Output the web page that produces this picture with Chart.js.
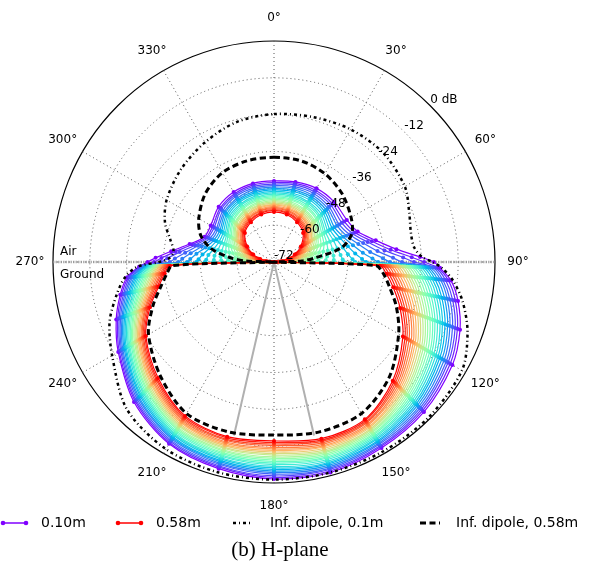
<!DOCTYPE html>
<html>
<head>
<meta charset="utf-8">
<script src="https://cdn.jsdelivr.net/npm/chart.js@4/dist/chart.umd.min.js"></script>
<style>
    body { margin: 0; background: #fff; }
    canvas { display: block; }
</style>
</head>
<body>
<canvas id="hplane" width="594" height="567"></canvas>
<script>
// angles (deg, clockwise from 0 at top) where the curves were read
const angles = [0,15,30,45,60,70,78,84,88,90,92,96,102,110,120,135,150,165,180,195,210,225,240,250,258,264,268,270,272,276,282,290,300,315,330,345];

const heights = [0.10,0.12,0.14,0.16,0.18,0.20,0.22,0.24,0.26,0.28,0.30,0.32,0.34,0.36,0.38,0.40,0.42,0.44,0.46,0.48,0.50,0.52,0.54,0.56,0.58];

// normalised gain in dB, one row per height, same order as angles
const gain_db = [
    [-45.6,-45.0,-44.3,-44.3,-44.6,-43.0,-38.1,-31.9,-24.4,-19.9,-17.9,-14.0,-10.7,-7.5,-4.9,-2.9,-2.0,-1.0,-1.3,-2.3,-3.6,-7.5,-13.4,-17.3,-20.8,-23.8,-28.0,-30.8,-33.4,-38.3,-43.9,-47.9,-48.2,-46.5,-45.7,-45.5],
    [-46.1,-45.5,-45.0,-45.1,-45.6,-43.9,-39.4,-33.8,-27.1,-23.1,-18.7,-14.9,-11.6,-8.4,-5.7,-3.5,-2.5,-1.5,-1.8,-2.8,-4.0,-8.0,-13.8,-17.8,-21.3,-24.3,-28.4,-32.9,-35.3,-39.7,-44.7,-48.5,-48.9,-47.2,-46.3,-46.0],
    [-46.6,-46.0,-45.6,-45.8,-46.5,-44.8,-40.8,-35.8,-29.9,-26.4,-19.5,-15.8,-12.5,-9.2,-6.5,-4.1,-2.9,-2.0,-2.3,-3.2,-4.5,-8.4,-14.3,-18.3,-21.9,-24.8,-28.8,-35.2,-37.2,-41.1,-45.7,-49.0,-49.5,-47.7,-46.8,-46.5],
    [-47.1,-46.6,-46.2,-46.6,-47.5,-45.8,-42.3,-38.1,-33.2,-30.3,-20.3,-16.7,-13.4,-10.1,-7.2,-4.7,-3.4,-2.4,-2.9,-3.7,-4.9,-8.9,-14.7,-18.8,-22.4,-25.4,-29.3,-38.0,-39.7,-42.9,-46.7,-49.7,-50.3,-48.4,-47.3,-47.0],
    [-47.6,-47.1,-46.9,-47.3,-48.3,-46.9,-43.9,-40.5,-36.5,-34.2,-21.2,-17.5,-14.3,-11.0,-8.0,-5.3,-3.8,-2.9,-3.4,-4.1,-5.4,-9.4,-15.1,-19.3,-22.9,-25.9,-29.7,-40.8,-42.1,-44.7,-47.9,-50.5,-50.9,-49.0,-48.0,-47.5],
    [-48.1,-47.7,-47.5,-48.0,-49.3,-48.0,-45.7,-42.9,-39.9,-38.1,-22.0,-18.4,-15.2,-11.8,-8.8,-5.9,-4.3,-3.4,-3.9,-4.6,-5.8,-9.8,-15.6,-19.7,-23.5,-26.4,-30.1,-43.7,-44.7,-46.6,-49.2,-51.2,-51.6,-49.5,-48.5,-48.1],
    [-48.5,-48.2,-48.1,-48.7,-50.1,-49.1,-47.4,-45.4,-43.3,-42.0,-22.8,-19.3,-16.1,-12.7,-9.6,-6.5,-4.7,-3.9,-4.4,-5.0,-6.2,-10.3,-16.0,-20.2,-24.0,-26.9,-30.5,-46.7,-47.4,-48.6,-50.5,-52.0,-52.2,-50.1,-49.0,-48.6],
    [-49.0,-48.8,-48.7,-49.4,-51.0,-50.3,-49.1,-47.8,-46.4,-45.6,-23.6,-20.2,-17.0,-13.6,-10.3,-7.1,-5.2,-4.3,-4.9,-5.5,-6.7,-10.7,-16.4,-20.7,-24.5,-27.4,-30.9,-49.5,-49.9,-50.5,-51.9,-52.9,-52.9,-50.7,-49.5,-49.1],
    [-49.5,-49.3,-49.4,-50.1,-51.8,-51.4,-50.9,-50.2,-49.6,-49.2,-24.4,-21.1,-17.9,-14.4,-11.1,-7.7,-5.6,-4.8,-5.4,-5.9,-7.1,-11.2,-16.9,-21.2,-25.1,-27.9,-31.4,-52.4,-52.4,-52.5,-53.3,-53.7,-53.6,-51.3,-50.2,-49.6],
    [-49.9,-49.8,-49.9,-50.8,-52.6,-52.6,-52.5,-52.5,-52.5,-52.4,-25.3,-22.0,-18.8,-15.3,-11.9,-8.3,-6.1,-5.3,-6.0,-6.4,-7.5,-11.7,-17.3,-21.7,-25.6,-28.5,-31.8,-55.0,-54.8,-54.5,-54.6,-54.7,-54.2,-51.9,-50.6,-50.1],
    [-50.4,-50.2,-50.5,-51.3,-53.3,-53.7,-54.1,-54.6,-55.1,-55.4,-26.1,-22.8,-19.7,-16.2,-12.7,-8.9,-6.5,-5.8,-6.5,-6.8,-8.0,-12.1,-17.7,-22.2,-26.1,-29.0,-32.2,-57.4,-57.0,-56.2,-55.9,-55.5,-54.7,-52.3,-51.1,-50.5],
    [-50.8,-50.7,-51.0,-52.0,-54.0,-54.7,-55.6,-56.5,-57.5,-58.0,-26.9,-23.7,-20.6,-17.0,-13.4,-9.5,-7.0,-6.2,-7.0,-7.3,-8.4,-12.6,-18.2,-22.7,-26.7,-29.5,-32.6,-59.6,-59.0,-57.8,-57.1,-56.3,-55.3,-52.9,-51.6,-50.9],
    [-51.2,-51.1,-51.5,-52.5,-54.8,-55.7,-57.0,-58.3,-59.6,-60.3,-27.7,-24.6,-21.5,-17.9,-14.2,-10.1,-7.4,-6.7,-7.5,-7.7,-8.9,-13.1,-18.6,-23.2,-27.2,-30.0,-33.0,-61.5,-60.8,-59.4,-58.3,-57.1,-55.9,-53.3,-52.0,-51.3],
    [-51.6,-51.6,-52.1,-53.2,-55.5,-56.8,-58.3,-59.9,-61.4,-62.2,-28.5,-25.5,-22.4,-18.8,-15.0,-10.7,-7.9,-7.2,-8.0,-8.2,-9.3,-13.5,-19.0,-23.6,-27.7,-30.5,-33.5,-63.1,-62.3,-60.8,-59.4,-58.0,-56.5,-53.9,-52.6,-51.8],
    [-52.0,-52.1,-52.5,-53.7,-56.1,-57.7,-59.5,-61.2,-62.9,-63.9,-29.3,-26.4,-23.3,-19.6,-15.8,-11.3,-8.3,-7.7,-8.5,-8.6,-9.7,-14.0,-19.5,-24.1,-28.3,-31.0,-33.9,-64.6,-63.6,-61.9,-60.4,-58.7,-57.0,-54.3,-52.9,-52.3],
    [-52.4,-52.5,-53.0,-54.2,-56.8,-58.6,-60.6,-62.6,-64.5,-65.5,-30.1,-27.3,-24.2,-20.5,-16.5,-11.9,-8.8,-8.1,-9.1,-9.1,-10.2,-14.4,-19.9,-24.6,-28.8,-31.6,-34.3,-66.0,-65.0,-63.2,-61.3,-59.5,-57.5,-54.7,-53.4,-52.7],
    [-52.8,-52.9,-53.5,-54.8,-57.4,-59.5,-61.7,-63.8,-65.8,-66.8,-31.0,-28.1,-25.1,-21.4,-17.3,-12.5,-9.2,-8.6,-9.6,-9.5,-10.6,-14.9,-20.3,-25.1,-29.3,-32.1,-34.7,-67.2,-66.2,-64.2,-62.3,-60.2,-58.0,-55.3,-53.8,-53.0],
    [-53.2,-53.3,-54.0,-55.3,-58.0,-60.3,-62.7,-65.0,-67.0,-68.1,-31.8,-29.0,-26.0,-22.2,-18.1,-13.1,-9.7,-9.1,-10.1,-10.0,-11.0,-15.4,-20.8,-25.6,-29.9,-32.6,-35.2,-68.3,-67.3,-65.3,-63.2,-60.9,-58.5,-55.7,-54.3,-53.4],
    [-53.5,-53.7,-54.4,-55.8,-58.6,-61.1,-63.6,-66.0,-68.1,-69.1,-32.6,-29.9,-26.9,-23.1,-18.9,-13.7,-10.1,-9.6,-10.6,-10.4,-11.5,-15.8,-21.2,-26.1,-30.4,-33.1,-35.6,-69.3,-68.3,-66.2,-64.0,-61.6,-59.0,-56.1,-54.6,-53.8],
    [-53.9,-54.1,-54.8,-56.3,-59.2,-61.7,-64.3,-66.7,-68.7,-69.7,-33.4,-30.8,-27.8,-24.0,-19.6,-14.3,-10.6,-10.0,-11.1,-10.9,-11.9,-16.3,-21.6,-26.6,-30.9,-33.6,-36.0,-69.8,-68.8,-66.9,-64.6,-62.1,-59.6,-56.6,-55.0,-54.2],
    [-54.2,-54.5,-55.3,-56.8,-59.7,-62.4,-65.1,-67.5,-69.4,-70.4,-34.2,-31.7,-28.7,-24.8,-20.4,-14.9,-11.0,-10.5,-11.6,-11.3,-12.4,-16.7,-22.1,-27.1,-31.5,-34.1,-36.4,-70.5,-69.5,-67.6,-65.3,-62.7,-60.0,-57.0,-55.4,-54.6],
    [-54.6,-54.8,-55.7,-57.2,-60.3,-63.1,-65.8,-68.2,-70.1,-71.0,-35.0,-32.6,-29.6,-25.7,-21.2,-15.5,-11.5,-11.0,-12.2,-11.8,-12.8,-17.2,-22.5,-27.5,-32.0,-34.7,-36.8,-71.0,-70.2,-68.3,-65.9,-63.3,-60.5,-57.4,-55.8,-54.8],
    [-54.9,-55.2,-56.1,-57.6,-60.8,-63.7,-66.3,-68.7,-70.5,-71.3,-35.9,-33.4,-30.5,-26.6,-22.0,-16.1,-11.9,-11.5,-12.7,-12.2,-13.2,-17.7,-22.9,-28.0,-32.5,-35.2,-37.3,-71.3,-70.5,-68.7,-66.4,-63.8,-60.9,-57.7,-56.2,-55.2],
    [-55.2,-55.5,-56.5,-58.1,-61.3,-64.2,-66.9,-69.2,-70.9,-71.7,-36.7,-34.3,-31.4,-27.4,-22.7,-16.7,-12.4,-11.9,-13.2,-12.7,-13.7,-18.1,-23.4,-28.5,-33.1,-35.7,-37.7,-71.7,-70.9,-69.2,-66.9,-64.3,-61.4,-58.2,-56.5,-55.5],
    [-55.7,-56.0,-57.0,-58.6,-61.9,-64.8,-67.4,-69.7,-71.3,-72.0,-37.5,-35.2,-32.3,-28.3,-23.5,-17.3,-12.8,-12.4,-13.7,-13.1,-14.1,-18.6,-23.8,-29.0,-33.6,-36.2,-38.1,-72.0,-71.3,-69.7,-67.4,-64.8,-61.9,-58.6,-57.0,-56.0]
];

// infinitesimal dipole references
const dipole_01_db = [-23.8,-23.1,-22.1,-21.7,-22.8,-25.1,-26.4,-26.1,-23.8,-20.5,-17.3,-13.3,-9.1,-4.9,-1.3,-0.6,-0.8,-1.0,-1.1,-1.1,-1.6,-4.2,-11.1,-15.0,-19.5,-23.1,-27.4,-34.5,-37.8,-39.1,-37.5,-34.2,-31.6,-29.2,-27.0,-24.8];
const dipole_058_db = [-37.9,-37.9,-38.8,-40.6,-43.0,-45.0,-49.5,-58.3,-62.9,-72.0,-38.8,-36.2,-33.6,-29.6,-25.1,-18.9,-15.0,-14.7,-15.6,-14.7,-15.0,-19.6,-24.8,-30.0,-34.4,-37.0,-38.8,-72.0,-62.9,-57.3,-51.1,-46.6,-43.7,-40.4,-38.4,-37.9];

// grey critical-angle rays
const ray_angles = [167, 193];
const ray_end_db = -14;

const r_ticks = [-72, -60, -48, -36, -24, -12, 0];
const theta_ticks = [0, 30, 60, 90, 120, 150, 180, 210, 240, 270, 300, 330];

const FONT = '"DejaVu Sans", sans-serif';

// 1 degree slots, so the curves can sit at any whole angle
const labels = [];
for (let i = 0; i < 360; i++) labels.push(i);

function to_slots(values) {
    const out = new Array(360).fill(null);
    angles.forEach((a, i) => { out[a] = values[i]; });
    return out;
}

// matplotlib "rainbow"
function rainbow(x) {
    const r = Math.min(1, Math.abs(2 * x - 0.5));
    const g = Math.sin(Math.PI * x);
    const b = Math.cos(Math.PI * x / 2);
    return 'rgb(' + Math.round(r * 255) + ',' + Math.round(g * 255) + ',' + Math.round(b * 255) + ')';
}

const datasets = [];

datasets.push({
    label: 'Inf. dipole, 0.58m',
    data: to_slots(dipole_058_db),
    borderColor: '#000',
    borderWidth: 3,
    borderDash: [6, 3.5],
    pointRadius: 0,
    spanGaps: true,
    tension: 0.3,
    fill: false,
    order: 0
});
datasets.push({
    label: 'Inf. dipole, 0.1m',
    data: to_slots(dipole_01_db),
    borderColor: '#000',
    borderWidth: 2.5,
    borderDash: [3, 3, 1, 3],
    pointRadius: 0,
    spanGaps: true,
    tension: 0.3,
    fill: false,
    order: 1
});

heights.forEach((h, k) => {
    const col = rainbow(k / (heights.length - 1));
    datasets.push({
        label: h.toFixed(2) + 'm',
        data: to_slots(gain_db[k]),
        borderColor: col,
        backgroundColor: col,
        pointBackgroundColor: col,
        pointBorderWidth: 0,
        pointRadius: 2,
        borderWidth: 1.2,
        spanGaps: true,
        tension: 0.3,
        fill: false,
        order: 2 + (heights.length - 1 - k)
    });
});

ray_angles.forEach((a) => {
    const d = new Array(360).fill(null);
    d[a] = ray_end_db;
    d[a + 1] = -72;
    datasets.push({
        label: 'ray ' + a,
        data: d,
        borderColor: '#b0b0b0',
        borderWidth: 2,
        pointRadius: 0,
        spanGaps: false,
        fill: false,
        order: 50
    });
});

function legend_line(ctx, x0, x1, y, color, width, dash, dots) {
    ctx.save();
    ctx.strokeStyle = color;
    ctx.lineWidth = width;
    ctx.setLineDash(dash);
    ctx.beginPath();
    ctx.moveTo(x0, y);
    ctx.lineTo(x1, y);
    ctx.stroke();
    if (dots) {
        ctx.fillStyle = color;
        [x0, x1].forEach((x) => {
            ctx.beginPath();
            ctx.arc(x, y, 2.3, 0, Math.PI * 2);
            ctx.fill();
        });
    }
    ctx.restore();
}

const decorations = {
    id: 'decorations',
    beforeDatasetsDraw(chart) {
        const s = chart.scales.r;
        const ctx = chart.ctx;
        const R = s.getDistanceFromCenterForValue(0);
        const a = s.getPointPosition(270, R);
        const b = s.getPointPosition(90, R);
        ctx.save();
        ctx.strokeStyle = 'rgba(150,150,150,0.75)';
        ctx.lineWidth = 2.5;
        ctx.setLineDash([1.5, 1]);
        ctx.beginPath();
        ctx.moveTo(a.x, a.y);
        ctx.lineTo(b.x, b.y);
        ctx.stroke();
        ctx.restore();
    },
    afterDraw(chart) {
        const s = chart.scales.r;
        const ctx = chart.ctx;
        ctx.save();
        ctx.fillStyle = '#000';

        // radial tick labels along the 45 deg ray
        ctx.font = '12px ' + FONT;
        ctx.textAlign = 'left';
        ctx.textBaseline = 'bottom';
        r_ticks.forEach((v) => {
            const p = s.getPointPosition(45, s.getDistanceFromCenterForValue(v));
            ctx.fillText(v === 0 ? '0 dB' : String(v), p.x, p.y);
        });

        // angle labels
        ctx.textAlign = 'center';
        ctx.textBaseline = 'middle';
        theta_ticks.forEach((t) => {
            const p = s.getPointPosition(t, 244);
            ctx.fillText(t + '°', p.x, p.y);
        });

        ctx.textAlign = 'left';
        ctx.textBaseline = 'alphabetic';
        ctx.fillText('Air', 60, 255);
        ctx.fillText('Ground', 60, 278);

        // legend
        const ly = 523;
        legend_line(ctx, 3, 26, ly, rainbow(0), 1.5, [], true);
        legend_line(ctx, 118, 141, ly, rainbow(1), 1.5, [], true);
        legend_line(ctx, 233, 252, ly, '#000', 2.5, [3, 3, 1, 3], false);
        legend_line(ctx, 420, 440, ly, '#000', 3, [6, 3.5], false);
        ctx.font = '14px ' + FONT;
        ctx.textBaseline = 'middle';
        ctx.fillText('0.10m', 41, ly);
        ctx.fillText('0.58m', 156, ly);
        ctx.fillText('Inf. dipole, 0.1m', 270, ly);
        ctx.fillText('Inf. dipole, 0.58m', 456, ly);

        ctx.font = '21px "Liberation Serif", "Times New Roman", serif';
        ctx.textAlign = 'center';
        ctx.fillText('(b) H-plane', 280, 550);
        ctx.restore();
    }
};

const chart_config = {
    type: 'radar',
    data: { labels: labels, datasets: datasets },
    options: {
        responsive: false,
        animation: false,
        events: [],
        layout: { padding: { left: 53, right: 99, top: 41, bottom: 84 } },
        plugins: {
            legend: { display: false },
            tooltip: { enabled: false }
        },
        scales: {
            r: {
                min: -72,
                max: 0,
                startAngle: 0,
                ticks: { stepSize: 12, display: false },
                grid: {
                    circular: true,
                    color: (c) => c.tick && c.tick.value === 0 ? '#000' : '#555',
                    lineWidth: (c) => c.tick && c.tick.value === 0 ? 1.2 : 1
                },
                border: { dash: (c) => c.tick && c.tick.value === 0 ? [] : [1, 3] },
                angleLines: {
                    color: '#555',
                    lineWidth: (c) => c.index % 30 === 0 ? 1 : 0,
                    borderDash: [1, 3]
                },
                pointLabels: { display: false }
            }
        }
    },
    plugins: [decorations]
};

const myChart = new Chart(document.getElementById('hplane'), chart_config);
</script>
</body>
</html>
